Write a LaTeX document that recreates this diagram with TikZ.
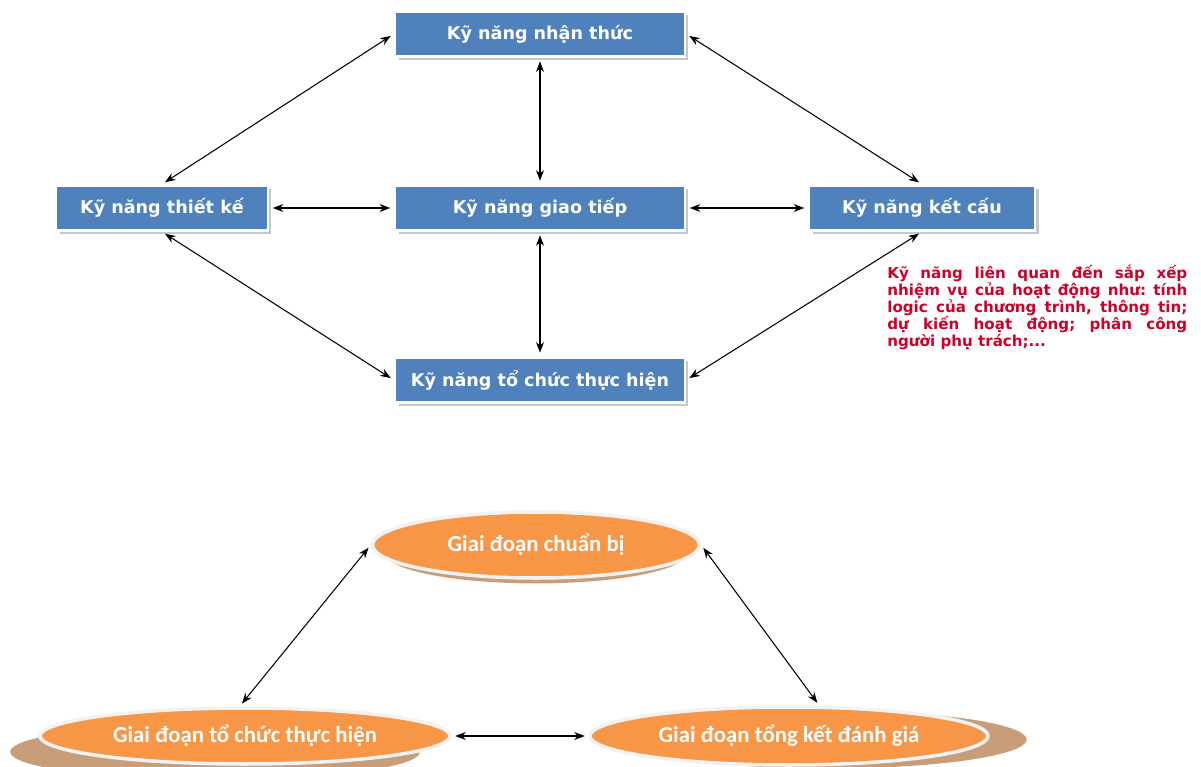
\documentclass[tikz,border=0pt]{standalone}
\usepackage{fontspec}
\setmainfont{DejaVu Sans}
\newfontfamily\stagefont{Carlito}
\usetikzlibrary{positioning}
\usetikzlibrary{arrows.meta}
\usetikzlibrary{shapes.geometric}
\usetikzlibrary{shadows}
\definecolor{skillblue}{HTML}{4F81BD}
\definecolor{stageorange}{HTML}{F79646}
\definecolor{stageshadow}{RGB}{200,157,122}
\definecolor{notered}{RGB}{205,0,40}
\frenchspacing
\tikzset{x=0.02cm, y=-0.02cm,
skill/.style={ % Sets the properties for each skill box
fill=skillblue,
draw=white,
line width=1.5pt,
text=white,
font=\bfseries\fontsize{10}{12}\selectfont,
minimum height=0.9cm,
inner sep=0pt,
drop shadow={shadow xshift=2pt, shadow yshift=-2pt, fill=black!22, opacity=1}},
stage/.style={ % Sets the properties for each stage
ellipse,
fill=stageorange,
draw=white!95!black,
line width=2pt,
text=white,
font=\stagefont\bfseries\fontsize{13}{15}\selectfont,
inner sep=0pt},
every edge/.style={ % Sets the properties for each link
draw,
<->, % Arrow tips on both ends
>={Stealth[length=6pt, width=4.5pt]},
line width=0.6pt,
shorten >=2pt,
shorten <=2pt}}

\begin{document}
\begin{tikzpicture}
	\useasboundingbox (0,0) rectangle (1201,767);
	% skills
	\node[skill, minimum width=5.8cm] (percept) at (540,34) {Kỹ năng nhận thức};
	\node[skill, minimum width=4.24cm] (design) at (162,208) {Kỹ năng thiết kế};
	\node[skill, minimum width=5.8cm] (commun) at (540,208) {Kỹ năng giao tiếp};
	\node[skill, minimum width=4.52cm] (struct) at (922,208) {Kỹ năng kết cấu};
	\node[skill, minimum width=5.8cm] (organ) at (540,380) {Kỹ năng tổ chức thực hiện};
	\node[anchor=north west, text width=6cm, align=justify, inner sep=0pt, text=notered,
		font=\bfseries\fontsize{8.6}{9.7}\selectfont] (note) at (887,265)
		{Kỹ năng liên quan đến sắp xếp\linebreak nhiệm vụ của hoạt động như: tính\linebreak logic của chương trình, thông tin;\linebreak dự kiến hoạt động; phân công\linebreak người phụ trách;...};
	\draw (percept.west) edge (design.north);
	\draw (percept.east) edge (struct.north);
	\draw (percept.south) edge (commun.north);
	\draw (design.east) edge (commun.west);
	\draw (commun.east) edge (struct.west);
	\draw (commun.south) edge (organ.north);
	\draw (design.south) edge (organ.west);
	\draw (struct.south) edge (organ.east);
	% stages
	\node[stage, minimum width=6.54cm, minimum height=1.32cm,
		drop shadow={shadow xshift=0pt, shadow yshift=-5pt, shadow scale=0.92, fill=stageshadow, opacity=1}]
		(prep) at (536,545) {Giai đoạn chuẩn bị};
	\node[stage, minimum width=8.2cm, minimum height=1.12cm,
		drop shadow={shadow xshift=-17pt, shadow yshift=-9pt, fill=stageshadow, opacity=1}]
		(exec) at (245,736) {Giai đoạn tổ chức thực hiện};
	\node[stage, minimum width=7.96cm, minimum height=1.16cm,
		drop shadow={shadow xshift=22pt, shadow yshift=-2pt, fill=stageshadow, opacity=1}]
		(review) at (789,736) {Giai đoạn tổng kết đánh giá};
	\draw (prep.west) edge (exec.100);
	\draw (prep.east) edge (review.45);
	\draw (exec.east) edge (review.west);
\end{tikzpicture}
\end{document}
